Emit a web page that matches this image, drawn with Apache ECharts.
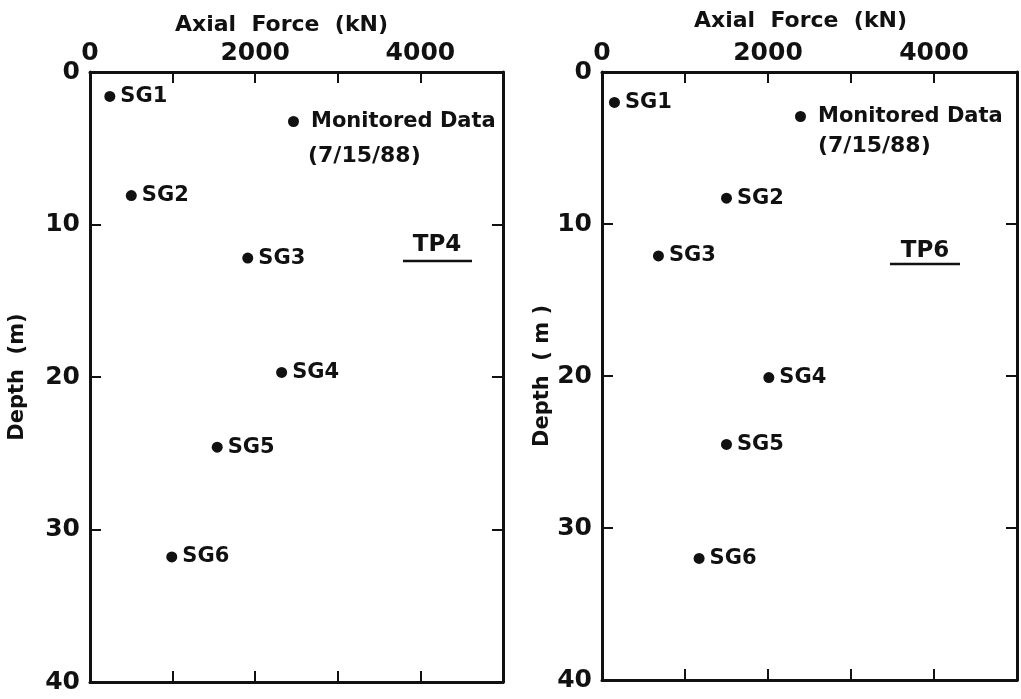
<!DOCTYPE html>
<html>
<head>
<meta charset="utf-8">
<script src="https://cdn.jsdelivr.net/npm/echarts@6/dist/echarts.min.js"></script>
<style>
  html, body { margin: 0; padding: 0; background: #fff; }
  #chart { width: 1021px; height: 699px; }
</style>
</head>
<body>
<div id="chart"></div>
<script>
// strain gauge data
const gaugeNames = ['SG1', 'SG2', 'SG3', 'SG4', 'SG5', 'SG6'];
const tp4Force = [240, 500, 1910, 2320, 1540, 990];
const tp4Depth = [1.6, 8.1, 12.2, 19.7, 24.6, 31.8];
const tp6Force = [150, 1500, 680, 2010, 1500, 1170];
const tp6Depth = [2.0, 8.3, 12.1, 20.1, 24.5, 32.0];
const forceLabels = [0, 2000, 4000];
const forceMax = 5000;
const depthMax = 40;

const ink = '#111';
const fontFam = 'DejaVu Sans';

function pts(force, depth) {
  var res = [];
  for (let i = 0; i < force.length; i++) {
    res.push([force[i], depth[i], gaugeNames[i]]);
  }
  return res;
}

const lineSty = { show: true, onZero: false, lineStyle: { color: ink, width: 3 } };
const tickSty = { show: true, inside: true, length: 11, lineStyle: { color: ink, width: 2 } };

function xAxes(gridIndex, nameGap, namePad) {
  return [
    {
      gridIndex: gridIndex, type: 'value', position: 'top',
      min: 0, max: forceMax, interval: 1000,
      name: 'Axial  Force  (kN)', nameLocation: 'middle', nameGap: nameGap,
      nameTextStyle: { fontFamily: fontFam, fontWeight: 'bold', fontSize: 22, color: ink, padding: namePad },
      axisLine: lineSty,
      axisTick: tickSty,
      axisLabel: {
        fontFamily: fontFam, fontWeight: 'bold', fontSize: 25, color: ink, margin: 6,
        formatter: function (v) { return forceLabels.indexOf(v) >= 0 ? String(v) : ''; }
      },
      splitLine: { show: false }
    },
    {
      gridIndex: gridIndex, type: 'value', position: 'bottom',
      min: 0, max: forceMax, interval: 1000,
      axisLine: lineSty,
      axisTick: tickSty,
      axisLabel: { show: false },
      splitLine: { show: false }
    }
  ];
}

function yAxes(gridIndex, title, nameGap) {
  return [
    {
      gridIndex: gridIndex, type: 'value', position: 'left', inverse: true,
      min: 0, max: depthMax, interval: 10,
      name: title, nameLocation: 'middle', nameGap: nameGap, nameRotate: 90,
      nameTextStyle: { fontFamily: fontFam, fontWeight: 'bold', fontSize: 21, color: ink },
      axisLine: lineSty,
      axisTick: tickSty,
      axisLabel: { fontFamily: fontFam, fontWeight: 'bold', fontSize: 25, color: ink, margin: 10 },
      splitLine: { show: false }
    },
    {
      gridIndex: gridIndex, type: 'value', position: 'right', inverse: true,
      min: 0, max: depthMax, interval: 10,
      axisLine: lineSty,
      axisTick: tickSty,
      axisLabel: { show: false },
      splitLine: { show: false }
    }
  ];
}

function gaugeSeries(idx, data) {
  return {
    name: 'Monitored Data',
    type: 'scatter',
    xAxisIndex: idx * 2,
    yAxisIndex: idx * 2,
    symbol: 'circle',
    symbolSize: 11,
    itemStyle: { color: ink, opacity: 1 },
    label: {
      show: true, position: 'right', distance: 5,
      fontFamily: fontFam, fontWeight: 'bold', fontSize: 21, color: ink,
      formatter: function (p) { return p.value[2]; }
    },
    data: data
  };
}

function legendAt(left, top) {
  return {
    data: ['Monitored Data'], left: left, top: top, padding: 0,
    icon: 'circle', itemWidth: 11, itemHeight: 11, selectedMode: false,
    textStyle: { fontFamily: fontFam, fontWeight: 'bold', fontSize: 21, color: ink, padding: [0, 0, 0, 7] }
  };
}

function noteText(x, y, text, size, align) {
  return {
    type: 'text', x: x, y: y,
    style: { text: text, fill: ink, font: 'bold ' + size + 'px "' + fontFam + '"', textAlign: align, textVerticalAlign: 'middle' }
  };
}

function underline(x1, x2, y) {
  return { type: 'line', shape: { x1: x1, y1: y, x2: x2, y2: y }, style: { stroke: ink, lineWidth: 2.5 } };
}

const chart = echarts.init(document.getElementById('chart'), null, { renderer: 'canvas' });
const option = {
  backgroundColor: '#fff',
  animation: false,
  grid: [
    { left: 90, top: 72, width: 413, height: 610 },
    { left: 602, top: 72, width: 415, height: 608 }
  ],
  xAxis: xAxes(0, 32, [0, 30, 0, 0]).concat(xAxes(1, 40, [0, 18, 0, 0])),
  yAxis: yAxes(0, 'Depth  (m)', 62).concat(yAxes(1, 'Depth  ( m )', 42)),
  legend: [legendAt(288, 111), legendAt(795, 106)],
  series: [
    gaugeSeries(0, pts(tp4Force, tp4Depth)),
    gaugeSeries(1, pts(tp6Force, tp6Depth))
  ],
  graphic: [
    noteText(308, 156, '(7/15/88)', 22, 'left'),
    noteText(818, 146, '(7/15/88)', 22, 'left'),
    noteText(437, 245, 'TP4', 23, 'center'),
    underline(403, 472, 261),
    noteText(925, 251, 'TP6', 23, 'center'),
    underline(890, 960, 264)
  ]
};
chart.setOption(option);
</script>
</body>
</html>
